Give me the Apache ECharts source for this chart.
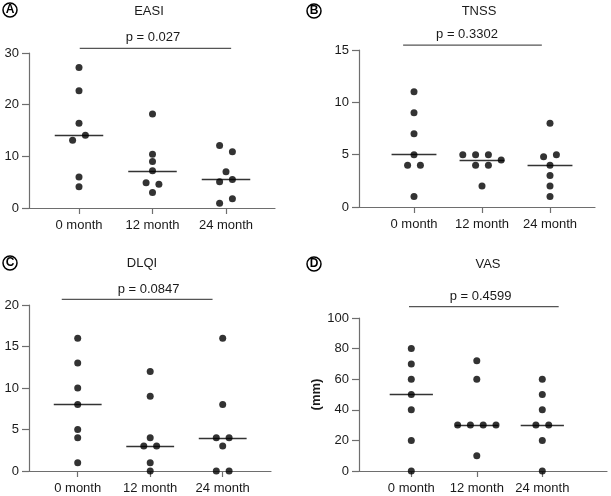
<!DOCTYPE html>
<html>
<head>
<meta charset="utf-8">
<script src="https://cdn.jsdelivr.net/npm/echarts@6/dist/echarts.min.js"></script>
<style>html,body{margin:0;padding:0;background:#fff}#c{width:611px;height:496px}</style>
</head>
<body>
<div id="c"></div>
<script>
// ---- data ----
const categories = ['0 month', '12 month', '24 month'];
const panelLetters = ['A', 'B', 'C', 'D'];
const panelTitles = ['EASI', 'TNSS', 'DLQI', 'VAS'];
const pValues = ['p = 0.027', 'p = 0.3302', 'p = 0.0847', 'p = 0.4599'];

const easiValues = [[27.2, 22.7, 16.4, 14.1, 13.1, 6.0, 4.1], [18.2, 10.4, 9.0, 7.2, 4.9, 4.6, 3.0], [12.1, 10.9, 7.0, 5.1, 5.5, 0.9, 1.8]];
const easiSlots = [[0, 0, 0, 1, -1, 0, 0], [0, 0, 0, 0, -1, 1, 0], [-1, 1, 0, -1, 1, -1, 1]];
const easiMedians = [14.1, 7.2, 5.5];
const easiTicks = [0, 10, 20, 30];

const tnssValues = [[11, 9, 7, 5, 4, 4, 1], [5, 5, 5, 4.5, 4, 4, 2], [8, 4.8, 5, 4, 3, 2, 1]];
const tnssSlots = [[0, 0, 0, 0, -1, 1, 0], [-3, -1, 1, 3, -1, 1, 0], [0, -1, 1, 0, 0, 0, 0]];
const tnssMedians = [5, 4.5, 4];
const tnssTicks = [0, 5, 10, 15];

const dlqiValues = [[16, 13, 10, 8, 5, 4, 1], [12, 9, 4, 3, 3, 1, 0], [16, 8, 4, 4, 3, 0, 0]];
const dlqiSlots = [[0, 0, 0, 0, 0, 0, 0], [0, 0, 0, -1, 1, 0, 0], [0, 0, -1, 1, 0, -1, 1]];
const dlqiMedians = [8, 3, 4];
const dlqiTicks = [0, 5, 10, 15, 20];

const vasValues = [[80, 70, 60, 50, 40, 20, 0], [72, 60, 30, 30, 30, 30, 10], [60, 50, 40, 30, 30, 20, 0]];
const vasSlots = [[0, 0, 0, 0, 0, 0, 0], [0, 0, -3, -1, 1, 3, 0], [0, 0, 0, -1, 1, 0, 0]];
const vasMedians = [50, 30, 30];
const vasTicks = [0, 20, 40, 60, 80, 100];

// comparison bar: [from category pos, to category pos, height]
const pBars = [[0.01, 2.07, 30.9], [-0.16, 1.88, 15.47], [-0.22, 1.86, 20.67], [-0.035, 2.25, 107.4]];

// ---- layout ----
const layouts = [
  { left: 29, top: 53, width: 246, height: 155, cat0: 79, unit: 73.5, title: [149, 5], letter: [3, 3], pOff: -2.5 },
  { left: 359, top: 50, width: 236, height: 157, cat0: 414, unit: 68, title: [479, 5], letter: [307, 4], pOff: -5.5 },
  { left: 29, top: 305, width: 242, height: 166, cat0: 77.7, unit: 72.5, title: [142, 257], letter: [3, 256], pOff: 11.4 },
  { left: 359, top: 318, width: 248, height: 153, cat0: 411.3, unit: 65.5, title: [488, 258], letter: [307, 257], pOff: -3.3 }
];

const panels = [
  { values: easiValues, slots: easiSlots, medians: easiMedians, ticks: easiTicks },
  { values: tnssValues, slots: tnssSlots, medians: tnssMedians, ticks: tnssTicks },
  { values: dlqiValues, slots: dlqiSlots, medians: dlqiMedians, ticks: dlqiTicks },
  { values: vasValues, slots: vasSlots, medians: vasMedians, ticks: vasTicks, yName: '(mm)' }
];

const FONT = '"Liberation Sans", Arial, Helvetica, sans-serif';
const AXIS = '#6e6e6e';
const TEXT = '#1a1a1a';

const grid = [], xAxis = [], yAxis = [], series = [], title = [];

panels.forEach((p, i) => {
  const L = layouts[i];
  grid.push({ left: L.left, top: L.top, width: L.width, height: L.height });
  const xmin = (L.left - L.cat0) / L.unit;
  const xmax = xmin + L.width / L.unit;
  const slotW = 6.4 / L.unit;
  const medHalf = 0.33;
  xAxis.push({
    type: 'value', gridIndex: i, min: xmin, max: xmax,
    splitLine: { show: false },
    axisLine: { show: true, onZero: false, lineStyle: { color: AXIS, width: 1.2 } },
    axisTick: { show: true, length: 6, customValues: [0, 1, 2], lineStyle: { color: AXIS, width: 1.2 } },
    axisLabel: { customValues: [0, 1, 2], formatter: v => categories[Math.round(v)], margin: 11,
      color: TEXT, fontSize: 13, fontFamily: FONT }
  });
  const t = p.ticks;
  yAxis.push({
    type: 'value', gridIndex: i, min: t[0], max: t[t.length - 1], interval: t[1] - t[0],
    splitLine: { show: false },
    axisLine: { show: true, onZero: false, lineStyle: { color: AXIS, width: 1.2 } },
    axisTick: { show: true, length: 7, lineStyle: { color: AXIS, width: 1.2 } },
    axisLabel: { margin: 10, color: TEXT, fontSize: 13, fontFamily: FONT },
    name: p.yName || '', nameLocation: 'middle', nameGap: 28,
    nameTextStyle: { fontWeight: 'bold', fontSize: 13, color: TEXT, fontFamily: FONT }
  });
  const pts = [];
  p.values.forEach((arr, c) => {
    arr.forEach((v, k) => pts.push([c + p.slots[c][k] * slotW, v]));
  });
  const ml = p.medians.map((m, c) => [
    { coord: [c - medHalf, m] },
    { coord: [c + medHalf, m] }
  ]);
  series.push({
    type: 'scatter', xAxisIndex: i, yAxisIndex: i, data: pts, symbolSize: 7, clip: false,
    itemStyle: { color: '#000' }, silent: true, z: 3,
    markLine: { silent: true, symbol: 'none', animation: false, label: { show: false },
      lineStyle: { type: 'solid', color: '#333', width: 1.3 }, emphasis: { disabled: true }, data: ml, z: 2 }
  });
  const pb = pBars[i];
  series.push({
    type: 'line', xAxisIndex: i, yAxisIndex: i, clip: false, silent: true, z: 2,
    symbol: 'circle', symbolSize: 0.01, showSymbol: true,
    lineStyle: { color: '#555', width: 1.2 }, itemStyle: { color: '#555' },
    data: [
      [pb[0], pb[2]],
      { value: [(pb[0] + pb[1]) / 2, pb[2]], label: { show: true, position: 'top', formatter: pValues[i],
        color: TEXT, fontSize: 13, fontFamily: FONT, distance: 4, offset: [L.pOff, 0] } },
      [pb[1], pb[2]]
    ]
  });
  title.push({
    text: panelTitles[i], left: L.title[0], top: L.title[1], textAlign: 'center', padding: 0,
    textStyle: { fontSize: 13, fontWeight: 'normal', color: TEXT, fontFamily: FONT }
  });
  title.push({
    text: '{c|' + panelLetters[i] + '}', left: L.letter[0], top: L.letter[1], padding: 0,
    textStyle: { rich: { c: { width: 14, height: 14, lineHeight: 14, align: 'center', verticalAlign: 'middle',
      borderColor: '#000', borderWidth: 1.5, borderRadius: 8, fontWeight: 'bold', fontSize: 12,
      color: '#000', fontFamily: FONT } } }
  });
});

const chart = echarts.init(document.getElementById('c'), null, { renderer: 'canvas' });
chart.setOption({ animation: false, backgroundColor: '#fff', title, grid, xAxis, yAxis, series });
</script>
</body>
</html>
